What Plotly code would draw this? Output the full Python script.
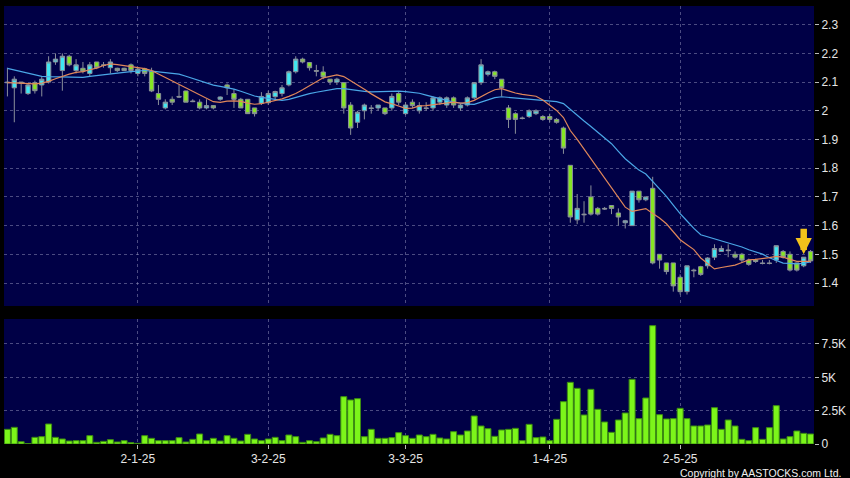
import pandas as pd
import plotly.graph_objects as go

# ---------------- data ----------------
hk_holidays = ["2024-12-25", "2024-12-26", "2025-01-01", "2025-01-29", "2025-01-30",
               "2025-01-31", "2025-04-04", "2025-04-18", "2025-04-21", "2025-05-01", "2025-05-05"]
dates = [d.strftime("%Y-%m-%d") for d in
         pd.bdate_range("2024-12-03", "2025-05-30", freq="C", holidays=hk_holidays)]

x_tick_dates = ["2025-01-02", "2025-02-03", "2025-03-03", "2025-04-01", "2025-05-02"]
x_tick_text = ["2-1-25", "3-2-25", "3-3-25", "1-4-25", "2-5-25"]

opens = [2.10, 2.08, 2.10, 2.06, 2.098, 2.09, 2.10, 2.17, 2.14, 2.19, 2.14, 2.148, 2.13, 2.17, 2.16, 2.15, 2.148, 2.148, 2.16,
         2.13, 2.146, 2.138, 2.06, 2.01, 2.04, 2.05, 2.069, 2.034, 2.03, 2.01, 2.018, 2.04, 2.09, 2.06, 2.04, 2.04, 2.01, 2.026, 2.028,
         2.049, 2.06, 2.09, 2.136, 2.18, 2.168, 2.14, 2.135, 2.11, 2.10, 2.098, 2.02, 1.96, 2.0, 2.01, 2.01, 2.01, 2.01, 2.06, 1.99,
         2.03, 2.0, 2.01, 2.01, 2.03, 2.02, 2.045, 2.01, 2.02, 2.045, 2.098, 2.127, 2.136, 2.11, 2.01, 1.99, 1.975, 1.98, 1.99, 1.98,
         1.98, 1.97, 1.94, 1.81, 1.62, 1.64, 1.70, 1.66, 1.66, 1.67, 1.644, 1.61, 1.60, 1.72, 1.69, 1.73, 1.50, 1.47, 1.47, 1.42,
         1.37, 1.445, 1.457, 1.46, 1.49, 1.51, 1.515, 1.50, 1.50, 1.48, 1.48, 1.47, 1.47, 1.48, 1.51, 1.50, 1.47, 1.46, 1.51]
highs = [2.15, 2.12, 2.10, 2.095, 2.105, 2.12, 2.19, 2.20, 2.20, 2.195, 2.18, 2.17, 2.17, 2.17, 2.17, 2.18, 2.15, 2.15, 2.165,
         2.15, 2.15, 2.15, 2.09, 2.04, 2.05, 2.09, 2.07, 2.04, 2.04, 2.04, 2.02, 2.05, 2.095, 2.075, 2.045, 2.04, 2.01, 2.065, 2.07,
         2.07, 2.09, 2.14, 2.19, 2.185, 2.17, 2.16, 2.155, 2.11, 2.115, 2.10, 2.03, 2.0, 2.025, 2.02, 2.02, 2.01, 2.06, 2.065, 2.03,
         2.04, 2.03, 2.03, 2.05, 2.05, 2.05, 2.05, 2.025, 2.05, 2.10, 2.18, 2.14, 2.14, 2.11, 2.02, 1.995, 1.98, 2.005, 2.005, 1.985,
         1.99, 1.975, 1.945, 1.81, 1.71, 1.685, 1.74, 1.665, 1.665, 1.67, 1.66, 1.62, 1.72, 1.72, 1.70, 1.77, 1.50, 1.47, 1.47, 1.43,
         1.46, 1.45, 1.46, 1.49, 1.535, 1.53, 1.535, 1.51, 1.505, 1.485, 1.485, 1.48, 1.48, 1.53, 1.515, 1.51, 1.47, 1.49, 1.515]
lows = [2.05, 1.96, 2.06, 2.055, 2.06, 2.05, 2.095, 2.16, 2.07, 2.155, 2.13, 2.13, 2.12, 2.145, 2.15, 2.13, 2.135, 2.14, 2.13,
        2.12, 2.12, 2.065, 2.02, 2.005, 2.02, 2.045, 2.03, 2.03, 2.005, 2.005, 2.005, 2.035, 2.055, 2.01, 2.01, 1.99, 1.98, 2.02, 2.02,
        2.04, 2.05, 2.085, 2.13, 2.165, 2.14, 2.12, 2.11, 2.09, 2.09, 1.99, 1.916, 1.94, 1.97, 1.99, 2.0, 1.985, 2.0, 2.02, 1.985,
        2.01, 1.99, 2.0, 2.0, 2.02, 2.01, 2.01, 2.0, 2.015, 2.04, 2.09, 2.12, 2.11, 2.05, 1.94, 1.92, 1.97, 1.975, 1.985, 1.965,
        1.96, 1.955, 1.85, 1.61, 1.605, 1.61, 1.635, 1.635, 1.655, 1.64, 1.60, 1.59, 1.60, 1.68, 1.685, 1.465, 1.45, 1.43, 1.37, 1.36,
        1.36, 1.42, 1.425, 1.45, 1.48, 1.51, 1.49, 1.485, 1.47, 1.46, 1.47, 1.465, 1.465, 1.47, 1.485, 1.44, 1.44, 1.455, 1.47]
closes = [2.098, 2.11, 2.097, 2.09, 2.07, 2.11, 2.17, 2.18, 2.19, 2.16, 2.16, 2.138, 2.16, 2.15, 2.158, 2.17, 2.14, 2.14, 2.14,
          2.145, 2.13, 2.069, 2.04, 2.03, 2.03, 2.048, 2.03, 2.032, 2.01, 2.018, 2.01, 2.048, 2.08, 2.04, 2.01, 1.99, 1.99, 2.05, 2.06,
          2.067, 2.08, 2.136, 2.18, 2.17, 2.15, 2.138, 2.118, 2.10, 2.11, 2.01, 1.94, 1.995, 2.02, 2.008, 2.02, 1.99, 2.05, 2.03, 2.02,
          2.018, 2.018, 2.008, 2.045, 2.045, 2.045, 2.02, 2.02, 2.045, 2.098, 2.16, 2.136, 2.12, 2.08, 1.97, 1.97, 1.973, 2.0, 2.0, 1.97,
          1.97, 1.96, 1.87, 1.63, 1.66, 1.638, 1.64, 1.64, 1.658, 1.66, 1.63, 1.617, 1.72, 1.69, 1.70, 1.47, 1.48, 1.44, 1.39, 1.37,
          1.46, 1.443, 1.43, 1.487, 1.52, 1.52, 1.513, 1.49, 1.48, 1.465, 1.475, 1.468, 1.468, 1.53, 1.49, 1.445, 1.445, 1.49, 1.477]
# closes before the visible window (needed for the moving averages at the left edge)
prior_closes = [2.22, 2.21, 2.21, 2.20, 2.20, 2.19, 2.19, 2.18, 2.19, 2.19,
                2.12, 2.10, 2.09, 2.10, 2.08, 2.11, 2.09, 2.10, 2.09]
volumes = [1100, 1250, 170, 30, 500, 550, 1500, 500, 375, 225, 250, 250, 625, 125, 200, 325, 150, 250, 100,
           50, 625, 425, 250, 250, 250, 475, 150, 350, 750, 250, 425, 225, 625, 425, 225, 725, 375, 250, 375,
           500, 250, 675, 550, 125, 250, 175, 450, 725, 625, 3550, 3300, 3400, 550, 1100, 425, 425, 475, 850, 625,
           425, 675, 550, 725, 450, 375, 925, 675, 975, 2100, 1350, 1150, 575, 1050, 1100, 1175, 250, 1475, 475, 525,
           250, 1850, 3175, 4625, 4175, 2175, 4100, 2600, 1650, 875, 1800, 2325, 4850, 1900, 3450, 8875, 2200, 1875, 1900, 2675,
           1900, 1350, 1350, 1425, 2725, 1100, 1800, 1350, 350, 250, 1225, 350, 1225, 2875, 375, 550, 975, 800, 750]

price_ticks = [1.4, 1.5, 1.6, 1.7, 1.8, 1.9, 2.0, 2.1, 2.2, 2.3]
price_tick_text = ["1.4", "1.5", "1.6", "1.7", "1.8", "1.9", "2", "2.1", "2.2", "2.3"]
vol_ticks = [0, 2500, 5000, 7500]
vol_tick_text = ["0", "2.5K", "5K", "7.5K"]

n_prior = len(prior_closes)
all_closes = pd.Series(prior_closes + closes)
ma10 = all_closes.rolling(10).mean().iloc[n_prior:].tolist()
ma20 = all_closes.rolling(20).mean().iloc[n_prior:].tolist()

# ---------------- style ----------------
NAVY = "#000046"
CYAN = "#3fe6f2"
GREEN = "#86e623"
WICK = "#8a8f9a"
LIME = "#7cf51a"
ORANGE = "#e0875a"
BLUE = "#4aa6e6"
GRID = "rgba(150,150,190,0.5)"
TXT = "#e6e6e6"
FONT = "Liberation Sans, Arial, sans-serif"

fig = go.Figure()
fig.add_trace(go.Candlestick(
    x=dates, open=opens, high=highs, low=lows, close=closes,
    increasing=dict(fillcolor=CYAN, line=dict(color=WICK, width=1)),
    decreasing=dict(fillcolor=GREEN, line=dict(color=WICK, width=1)),
    whiskerwidth=0, xaxis="x", yaxis="y", showlegend=False, hoverinfo="skip"))
fig.add_trace(go.Scatter(x=dates, y=ma20, mode="lines", line=dict(color=BLUE, width=1.2),
                         xaxis="x", yaxis="y", showlegend=False, hoverinfo="skip"))
fig.add_trace(go.Scatter(x=dates, y=ma10, mode="lines", line=dict(color=ORANGE, width=1.2),
                         xaxis="x", yaxis="y", showlegend=False, hoverinfo="skip"))
fig.add_trace(go.Bar(x=dates, y=volumes, xaxis="x", yaxis="y2",
                     marker=dict(color=LIME, line=dict(color="#3c8c12", width=1)),
                     showlegend=False, hoverinfo="skip"))

fig.add_annotation(x=dates[-2], y=highs[-2] + 0.01, xref="x", yref="y", text="",
                   showarrow=True, ax=0, ay=-27, arrowhead=2, arrowsize=0.5, arrowwidth=6.5,
                   arrowcolor="#f2c21b", standoff=0)
fig.add_annotation(x=1.0357, y=-0.066, xref="paper", yref="paper", xanchor="right", yanchor="middle",
                   text="Copyright by AASTOCKS.com Ltd.", showarrow=False,
                   font=dict(family=FONT, size=10.5, color="#f0f0f0"))

axis_common = dict(showline=False, zeroline=False, gridcolor=GRID, griddash="3px,3px", gridwidth=1,
                   ticks="outside", ticklen=4, tickcolor="#bbbbbb",
                   tickfont=dict(family=FONT, size=12, color=TXT))

fig.update_layout(
    width=850, height=478,
    margin=dict(l=4, r=33, t=6, b=34),
    paper_bgcolor="black", plot_bgcolor=NAVY,
    showlegend=False, bargap=0.13, boxgap=0.1,
    xaxis=dict(type="category", domain=[0, 1], anchor="y2", rangeslider=dict(visible=False),
               tickmode="array", tickvals=x_tick_dates, ticktext=x_tick_text, showgrid=True,
               **axis_common),
    yaxis=dict(domain=[0.3151, 1.0], anchor="x", side="right", range=[1.32, 2.365],
               tickmode="array", tickvals=price_ticks, ticktext=price_tick_text, showgrid=True,
               **axis_common),
    yaxis2=dict(domain=[0, 0.2854], anchor="x", side="right", range=[0, 9375],
                tickmode="array", tickvals=vol_ticks, ticktext=vol_tick_text, showgrid=True,
                **axis_common),
)

fig.write_html("out.html", config={"displayModeBar": False},
               post_script="document.body.style.margin='0';document.body.style.background='black';")
